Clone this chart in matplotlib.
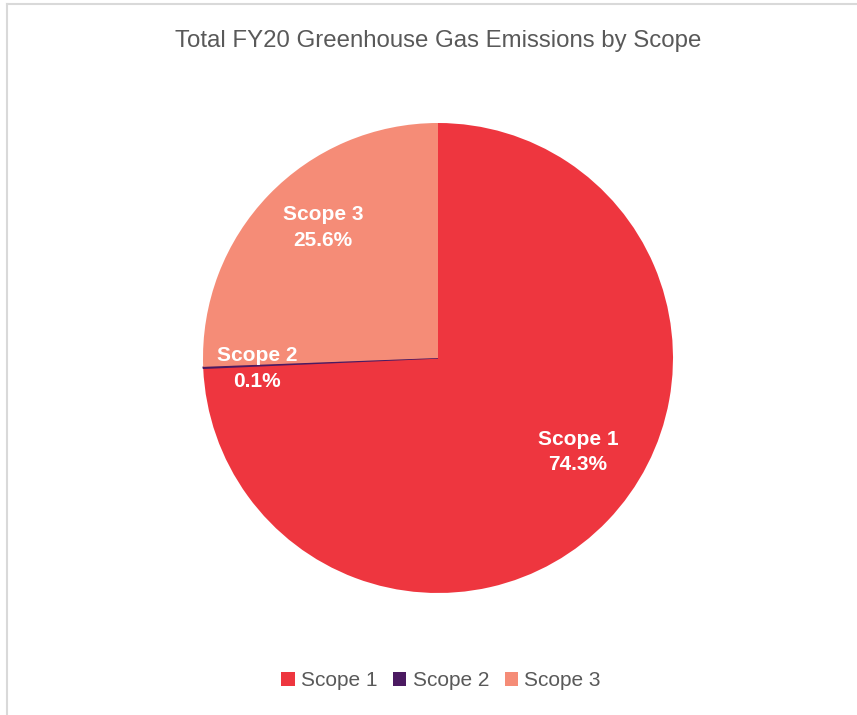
import matplotlib.pyplot as plt
import matplotlib.lines as mlines
from matplotlib.patches import Patch

plt.rcParams["font.family"] = ["Liberation Sans", "DejaVu Sans"]

title = "Total FY20 Greenhouse Gas Emissions by Scope"
scopes = ["Scope 1", "Scope 2", "Scope 3"]
shares = [74.3, 0.1, 25.6]
colors = ["#EE363F", "#4B1A61", "#F58C77"]

W, H = 857, 715
fig = plt.figure(figsize=(W / 100, H / 100), dpi=100)

# pie axes: centre (438, 358), radius 235 px
cx, cy, r = 438, 358, 235
ax = fig.add_axes([(cx - r) / W, 1 - (cy + r) / H, 2 * r / W, 2 * r / H])
wedges, texts = ax.pie(shares, colors=colors, startangle=90, counterclock=False,
                       radius=1, wedgeprops=dict(linewidth=0))
# the tiny Scope 2 slice shows as a thin line in the original
wedges[1].set_edgecolor(colors[1])
wedges[1].set_linewidth(1.0)
ax.set_xlim(-1, 1)
ax.set_ylim(-1, 1)
ax.set_aspect("equal")
ax.axis("off")

# data labels (positions, relative to radius)
label_pos = [(0.596, -0.40), (-0.77, -0.045), (-0.49, 0.555)]
for name, val, (x, y) in zip(scopes, shares, label_pos):
    ax.text(x, y, f"{name}\n{val:.1f}%", ha="center", va="center", color="white",
            fontsize=15, fontweight="bold", linespacing=1.45)

fig.text(cx / W, 1 - 41 / H, title, ha="center", va="center", fontsize=17.3, color="#595959")

handles = [Patch(facecolor=c, edgecolor="none") for c in colors]
fig.legend(handles, scopes, loc="center", bbox_to_anchor=(441 / W, 1 - 681 / H), ncol=3,
           frameon=False, fontsize=15, labelcolor="#595959", handlelength=0.65,
           handleheight=0.65, handletextpad=0.3, columnspacing=0.75)

# partial chart border (top and left edges)
fig.add_artist(mlines.Line2D([7 / W, 1], [1 - 4 / H, 1 - 4 / H], color="#D9D9D9", lw=1.5))
fig.add_artist(mlines.Line2D([7 / W, 7 / W], [1 - 4 / H, 0], color="#D9D9D9", lw=1.5))

fig.savefig("out.png", dpi=100)
